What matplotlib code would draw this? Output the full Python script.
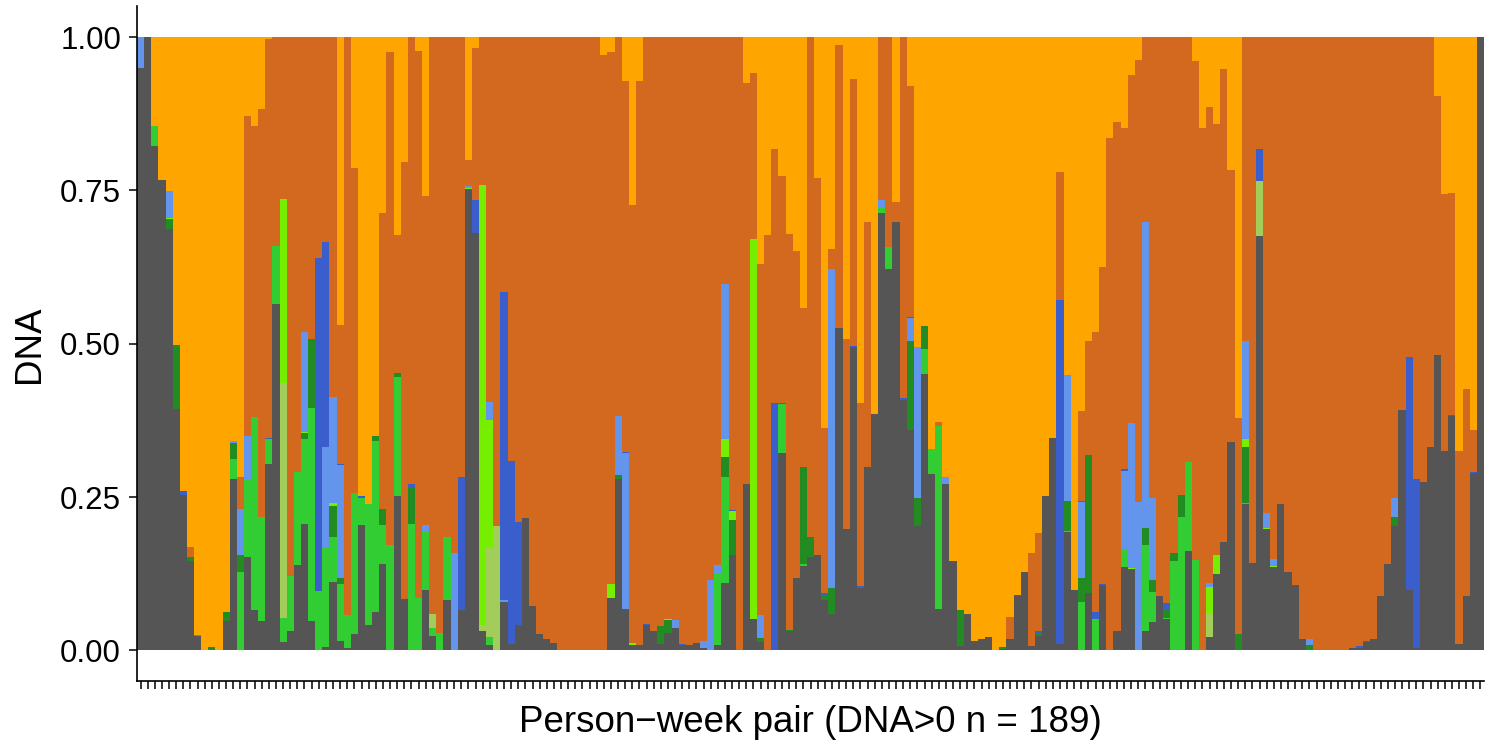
import matplotlib
matplotlib.use("Agg")
import matplotlib.pyplot as plt
import numpy as np

# ---- data: proportions per person-week pair (189 bars), stacked bottom -> top ----
grey = [
    .949, 1.0, .822, .767, .687, .393, .254, .145, .023, 0,
    0, 0, .048, .279, 0, .152, .066, .048, .304, .565,
    .013, .031, .139, .206, .048, 0, .006, .112, .016, .003,
    .027, .204, .041, .062, .141, 0, .251, .084, 0, 0,
    .099, .023, 0, .082, 0, .065, .753, .681, .031, .009,
    0, .079, .011, .041, .216, .072, .027, .019, .012, 0,
    0, 0, 0, 0, 0, 0, .086, .279, .067, .009,
    .008, .042, .031, .010, .029, .037, .008, .008, .012, .003,
    0, .009, .109, .156, 0, .272, .051, .013, 0, 0,
    .322, .031, .118, .137, .152, .156, .082, .059, .526, .198,
    .494, .102, .299, .385, .713, .622, .698, .409, .359, .202,
    .451, .288, .068, .272, .145, .007, .060, .016, .018, .021,
    0, .002, .019, .091, .128, .007, .024, .252, .347, .011,
    .193, .098, 0, .094, 0, .107, 0, .031, .136, .133,
    0, .032, .047, .089, .051, 0, 0, .162, 0, 0,
    .022, .124, .177, .339, 0, .239, .143, .675, .198, .136,
    .239, .128, .107, .018, 0, 0, 0, 0, 0, 0,
    .003, .003, .014, .018, .089, .141, .202, .392, .099, .003,
    .275, .332, .482, .325, .382, .011, .088, .289, 1.0,
]
limegreen = [
    0, 0, .033, 0, 0, 0, 0, 0, 0, 0,
    0, 0, 0, .033, .128, .125, .315, .170, .041, .094,
    .039, .090, .152, .139, .347, .096, .163, .073, .092, .054,
    .230, .044, .198, .279, .063, .171, .194, 0, .206, .086,
    .096, .014, .029, .102, 0, 0, 0, 0, 0, .012,
    0, 0, 0, 0, 0, 0, 0, 0, 0, 0,
    0, 0, 0, 0, 0, 0, 0, 0, 0, 0,
    0, 0, 0, .001, 0, 0, 0, 0, 0, 0,
    0, .115, .173, 0, 0, 0, 0, 0, 0, 0,
    .080, 0, 0, .003, 0, 0, 0, 0, 0, 0,
    0, 0, 0, 0, .009, .036, 0, 0, 0, 0,
    .041, .039, .298, 0, 0, 0, 0, 0, 0, 0,
    0, 0, 0, 0, 0, 0, 0, 0, 0, 0,
    .001, 0, .079, 0, .049, 0, 0, 0, .029, 0,
    0, .139, .048, 0, .001, .146, .218, .145, .147, 0,
    0, 0, 0, 0, 0, .002, 0, 0, 0, 0,
    0, 0, 0, 0, 0, 0, 0, 0, 0, 0,
    0, 0, 0, 0, 0, 0, 0, 0, 0, 0,
    0, 0, 0, 0, 0, 0, 0, 0, 0,
]
darkgreen = [
    0, 0, 0, 0, .016, .105, 0, .007, 0, 0,
    .005, 0, .014, .026, .027, 0, 0, 0, 0, 0,
    0, 0, 0, .010, .113, 0, 0, .050, .010, 0,
    0, 0, 0, .008, .027, 0, .007, 0, .058, 0,
    0, 0, 0, 0, 0, 0, 0, 0, 0, 0,
    0, 0, 0, 0, 0, 0, 0, 0, 0, 0,
    0, 0, 0, 0, 0, 0, 0, .007, 0, 0,
    0, 0, 0, .029, .020, 0, 0, 0, 0, 0,
    0, 0, .033, .057, 0, 0, 0, .007, 0, 0,
    0, .002, 0, .159, .033, 0, .009, .042, 0, 0,
    0, 0, 0, 0, 0, 0, 0, 0, .146, .047,
    .037, 0, 0, 0, 0, .058, 0, 0, 0, 0,
    0, .003, 0, 0, 0, 0, .004, 0, 0, 0,
    .050, 0, .039, .225, 0, 0, 0, 0, 0, 0,
    0, .029, .020, 0, .016, .013, .036, 0, 0, 0,
    0, 0, 0, 0, .027, .090, 0, 0, 0, 0,
    0, 0, 0, 0, .009, 0, 0, 0, 0, 0,
    0, 0, 0, 0, 0, 0, .016, 0, 0, 0,
    0, 0, 0, 0, 0, 0, 0, 0, 0,
]
yellowgreen = [
    0, 0, 0, 0, 0, 0, 0, 0, 0, 0,
    0, 0, 0, 0, 0, 0, 0, 0, 0, 0,
    .384, 0, 0, 0, 0, 0, 0, 0, 0, 0,
    0, 0, 0, 0, 0, 0, 0, 0, 0, 0,
    0, .022, 0, 0, 0, 0, 0, 0, .010, .146,
    .202, 0, 0, 0, 0, 0, 0, 0, 0, 0,
    0, 0, 0, 0, 0, 0, 0, 0, 0, 0,
    0, 0, 0, 0, 0, 0, 0, 0, 0, 0,
    0, 0, 0, 0, 0, 0, 0, 0, 0, 0,
    0, 0, 0, 0, 0, 0, 0, 0, 0, 0,
    0, 0, 0, 0, 0, 0, 0, 0, 0, 0,
    0, 0, 0, 0, 0, 0, 0, 0, 0, 0,
    0, 0, 0, 0, 0, 0, 0, 0, 0, 0,
    0, 0, 0, 0, 0, 0, 0, 0, 0, 0,
    0, 0, 0, 0, 0, 0, 0, 0, 0, 0,
    .039, 0, 0, 0, 0, 0, 0, .090, 0, 0,
    0, 0, 0, 0, 0, 0, 0, 0, 0, 0,
    0, 0, 0, 0, 0, 0, 0, 0, 0, 0,
    0, 0, 0, 0, 0, 0, 0, 0, 0,
]
chartreuse = [
    0, 0, 0, 0, .002, 0, 0, 0, 0, 0,
    0, 0, 0, 0, .001, .001, 0, 0, 0, 0,
    .300, 0, 0, .001, 0, 0, 0, .005, 0, 0,
    0, 0, 0, 0, 0, 0, 0, 0, 0, 0,
    0, 0, 0, 0, 0, 0, .001, 0, .718, .209,
    0, 0, 0, 0, 0, 0, 0, 0, 0, 0,
    0, 0, 0, 0, 0, 0, .022, 0, .001, .003,
    0, 0, 0, 0, .002, 0, 0, 0, 0, 0,
    0, .001, .029, .015, 0, 0, .620, 0, 0, 0,
    0, 0, 0, 0, 0, 0, 0, .001, 0, 0,
    0, 0, 0, 0, 0, 0, 0, 0, 0, 0,
    0, 0, 0, 0, 0, 0, 0, 0, 0, 0,
    0, 0, 0, 0, 0, 0, 0, 0, 0, 0,
    0, 0, 0, 0, 0, 0, 0, 0, 0, .002,
    0, 0, 0, 0, 0, 0, 0, 0, 0, 0,
    .043, .032, 0, 0, 0, .014, 0, 0, .002, .002,
    0, 0, 0, 0, 0, 0, 0, 0, 0, 0,
    0, 0, 0, 0, 0, 0, 0, 0, 0, 0,
    0, 0, 0, 0, 0, 0, 0, 0, 0,
]
lightblue = [
    .051, 0, 0, 0, .044, 0, 0, 0, 0, 0,
    0, 0, 0, .003, .074, .072, 0, 0, 0, 0,
    0, 0, 0, .163, 0, 0, .162, .173, .185, 0,
    0, 0, 0, 0, 0, 0, 0, 0, 0, 0,
    .009, 0, 0, 0, .158, 0, .003, 0, 0, .029,
    0, .003, 0, 0, 0, 0, 0, 0, 0, 0,
    0, 0, 0, 0, 0, 0, 0, .096, .254, 0,
    0, 0, 0, 0, 0, .013, 0, 0, 0, .013,
    .115, .014, .254, 0, 0, 0, 0, .037, 0, 0,
    0, 0, 0, 0, 0, 0, 0, .520, 0, 0,
    0, 0, 0, 0, .013, 0, 0, 0, .037, .245,
    0, .001, 0, .011, 0, 0, 0, 0, 0, 0,
    0, 0, 0, 0, 0, 0, 0, 0, 0, 0,
    .205, 0, .124, 0, .002, 0, 0, 0, .127, .236,
    .242, .498, .134, 0, 0, 0, 0, 0, 0, 0,
    .006, 0, 0, 0, 0, .160, 0, 0, .024, .011,
    0, 0, 0, 0, .009, 0, 0, 0, 0, 0,
    0, 0, 0, 0, 0, 0, .031, 0, 0, 0,
    0, 0, 0, 0, 0, 0, 0, 0, 0,
]
royalblue = [
    0, 0, 0, 0, 0, 0, .005, 0, 0, 0,
    0, 0, 0, 0, 0, 0, 0, 0, .002, 0,
    0, 0, 0, 0, 0, .543, .335, 0, .001, 0,
    0, .004, 0, 0, 0, .001, 0, 0, .007, 0,
    0, 0, 0, 0, 0, .217, 0, .054, 0, 0,
    0, .503, .298, .169, 0, .001, 0, 0, 0, 0,
    0, 0, 0, 0, 0, 0, 0, 0, .002, 0,
    0, .001, 0, 0, 0, 0, .002, 0, 0, 0,
    0, 0, 0, .001, 0, 0, 0, 0, 0, .404,
    .002, 0, 0, 0, 0, 0, .002, 0, 0, 0,
    .003, .003, 0, 0, 0, 0, .001, .003, .001, 0,
    0, 0, 0, 0, 0, 0, 0, 0, 0, 0,
    0, 0, 0, 0, 0, 0, .003, 0, 0, .560,
    0, 0, .002, 0, .012, .001, 0, 0, .003, 0,
    0, 0, 0, 0, .010, 0, 0, 0, 0, 0,
    0, 0, 0, .001, 0, 0, 0, .052, 0, 0,
    0, 0, 0, 0, 0, 0, 0, 0, 0, 0,
    0, .004, .001, 0, 0, 0, 0, 0, .379, .276,
    0, 0, 0, 0, .001, 0, 0, .002, 0,
]
chocolate = [
    0, 0, 0, 0, 0, 0, 0, .017, .002, 0,
    0, 0, 0, 0, .052, .521, .474, .664, .650, .341,
    .264, .879, .709, .481, .492, .361, .334, .587, .227, .943,
    .530, 0, 0, 0, .482, .803, .225, .712, .729, .891,
    .537, .941, .971, .816, .842, .718, .043, .247, .241, .595,
    .798, .415, .691, .790, .784, .927, .973, .981, .988, 1,
    1, 1, 1, 1, 1, .971, .867, .618, .604, .714,
    .920, .957, .969, .960, .949, .950, .990, .992, .988, .984,
    .885, .861, .402, .771, 1, .653, .271, .573, .677, .413,
    .370, .646, .533, .259, .815, .614, .270, .032, .461, .309,
    .434, .299, .399, 0, .265, .342, .032, .588, .378, 0,
    0, 0, .007, 0, 0, 0, 0, 0, 0, 0,
    0, 0, .036, 0, 0, .152, .161, 0, 0, .209,
    0, 0, .147, .186, .456, .517, .835, .830, .556, .567,
    .720, .302, .751, .911, .922, .841, .746, .693, .814, .852,
    .776, .702, .771, .443, .352, .495, .857, .183, .776, .851,
    .761, .872, .893, .982, .982, 1, 1, 1, 1, 1,
    .997, .993, .985, .982, .911, .859, .751, .608, .522, .721,
    .725, .668, .422, .419, .362, .314, .338, .068, 0,
]
orange = [
    0, 0, .145, .233, .251, .502, .741, .831, .975, 1,
    .995, 1, .938, .659, .718, .129, .145, .118, .003, 0,
    0, 0, 0, 0, 0, 0, 0, 0, .469, 0,
    .213, .748, .761, .651, .287, .025, .323, .204, 0, .023,
    .259, 0, 0, 0, 0, 0, .200, .018, 0, 0,
    0, 0, 0, 0, 0, 0, 0, 0, 0, 0,
    0, 0, 0, 0, 0, .029, .025, 0, .072, .274,
    .072, 0, 0, 0, 0, 0, 0, 0, 0, 0,
    0, 0, 0, 0, 0, .075, .058, .370, .323, .183,
    .226, .321, .349, .442, 0, .230, .637, .346, .013, .493,
    .069, .596, .302, .615, 0, 0, .269, 0, .079, .506,
    .471, .672, .627, .717, .855, .935, .940, .984, .982, .979,
    1, .995, .945, .909, .872, .841, .808, .748, .653, .220,
    .551, .902, .609, .495, .481, .375, .165, .139, .149, .062,
    .038, 0, 0, 0, 0, 0, 0, 0, .039, .148,
    .114, .142, .052, .217, .621, 0, 0, 0, 0, 0,
    0, 0, 0, 0, 0, 0, 0, 0, 0, 0,
    0, 0, 0, 0, 0, 0, 0, 0, 0, 0,
    0, 0, .096, .256, .255, .675, .574, .641, 0,
]

series = [grey, limegreen, darkgreen, yellowgreen, chartreuse,
          lightblue, royalblue, chocolate, orange]
colors = ["#555555", "#32CD32", "#228B22", "#A2CD5A", "#76EE00",
          "#6495ED", "#3A5FCD", "#D2691E", "#FFA500"]

y_ticks = [0.0, 0.25, 0.5, 0.75, 1.0]
y_ticklabels = ["0.00", "0.25", "0.50", "0.75", "1.00"]
x_label = "Person\u2212week pair (DNA>0 n = 189)"
y_label = "DNA"

plt.rcParams["font.family"] = ["Liberation Sans", "DejaVu Sans"]

W, H = 1489, 751
fig = plt.figure(figsize=(W / 100, H / 100), dpi=100)
left, right, top, bottom = 137, 1484, 6.4, 681
ax = fig.add_axes([left / W, 1 - bottom / H, (right - left) / W, (bottom - top) / H])

n = len(grey)
x = np.arange(n)
base = np.zeros(n)
for vals, col in zip(series, colors):
    v = np.array(vals, dtype=float)
    ax.bar(x, v, bottom=base, width=1.0, color=col, linewidth=0,
           antialiased=False, align="center")
    base += v

ax.set_xlim(-0.5, n - 0.5)
ax.set_ylim(-0.05, 1.05)
ax.set_xticks(x)
ax.set_xticklabels([])
ax.set_yticks(y_ticks)
ax.set_yticklabels(y_ticklabels, fontsize=22.5)
ax.tick_params(axis="x", length=5.5, width=1.1, color="black")
ax.tick_params(axis="y", length=5.5, width=1.1, color="black", pad=6, labelcolor="black")
for s in ["top", "right"]:
    ax.spines[s].set_visible(False)
for s in ["left", "bottom"]:
    ax.spines[s].set_linewidth(1.2)
    ax.spines[s].set_color("black")

fig.text(810 / W, 1 - 722 / H, x_label, ha="center", va="center", fontsize=26.5)
fig.text(29 / W, 1 - 344 / H, y_label, ha="center", va="center", fontsize=26.5, rotation=90)

fig.savefig("out.png", dpi=100)
